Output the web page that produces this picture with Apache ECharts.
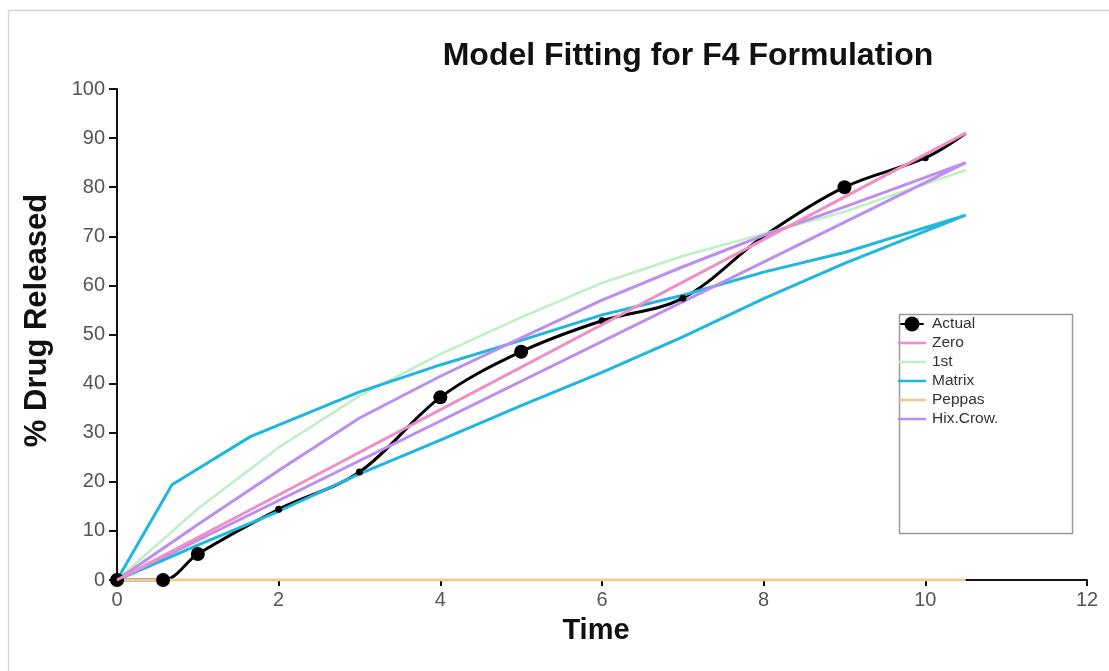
<!DOCTYPE html>
<html>
<head>
<meta charset="utf-8">
<script src="https://cdn.jsdelivr.net/npm/echarts@6/dist/echarts.min.js"></script>
<style>
  html, body { margin: 0; padding: 0; background: #fff; }
  #chart { width: 1109px; height: 671px; }
</style>
</head>
<body>
<div id="chart"></div>
<script>
// ---- data ----
const seriesNames = ['Actual', 'Zero', '1st', 'Matrix', 'Peppas', 'Hix.Crow.'];
const xTicks = [0, 2, 4, 6, 8, 10, 12];
const yTicks = [0, 10, 20, 30, 40, 50, 60, 70, 80, 90, 100];

const actualTime = [0, 0.57, 1, 2, 3, 4, 5, 6, 7, 8, 9, 10, 10.5];
const actualRel  = [0, 0, 5.3, 14.4, 22, 37.2, 46.5, 52.8, 57.4, 70, 80, 86, 91];

const zeroTime = [0, 10.5];
const zeroRel  = [0, 91];

const firstTime = [0, 1, 2, 3, 4, 5, 6, 7, 8, 9, 10.5];
const firstRel  = [0, 14.5, 27, 37.5, 46, 53.5, 60.5, 66, 70.5, 75, 83.5];

// Matrix: outward branch then return branch
const matrixTime = [0, 0.68, 1.65, 3, 4, 5, 6, 7, 8, 9, 10.5, 9, 8, 7, 6, 5, 4, 3, 2, 1, 0];
const matrixRel  = [0, 19.4, 29.2, 38.3, 43.8, 48.8, 54, 58, 62.7, 66.7, 74.3, 64.5, 57.3, 49.5, 42.3, 35.5, 28.5, 21.6, 14, 7.1, 0];

const peppasTime = [0, 10.5];
const peppasRel  = [0, 0];

// Hix.Crow.: upper branch then straight return
const hixTime = [0, 1, 2, 3, 4, 5, 6, 7, 8, 9, 10.5, 0];
const hixRel  = [0, 11.3, 22.3, 33, 41.5, 49.3, 57, 63.8, 70.2, 76, 85, 0];

const pairs = (xs, ys) => xs.map((x, i) => [x, ys[i]]);

// ---- styling ----
const markerSize = [14, 14, 14, 7, 7, 14, 14, 7, 7, 0, 14, 7, 0];
const colors = {
  'Actual': '#000000',
  'Zero': '#ef8fc4',
  '1st': '#bdf0c4',
  'Matrix': '#1fb7df',
  'Peppas': '#f6c88e',
  'Hix.Crow.': '#bb8ef0'
};
const FONT = '"Liberation Sans", Arial, sans-serif';
const LINE_ICON = 'path://M0,0 L28,0 L28,2.6 L0,2.6 Z';
const DOT_ICON = 'path://M0,8 L28,8 L28,10.5 L0,10.5 Z M23,9.25 A9,9 0 1,1 5,9.25 A9,9 0 1,1 23,9.25 Z';

const chart = echarts.init(document.getElementById('chart'));
chart.setOption({
  animation: false,
  backgroundColor: '#ffffff',
  title: {
    text: 'Model Fitting for F4 Formulation',
    left: 683, top: 35, textAlign: 'center',
    textStyle: { fontFamily: FONT, fontWeight: 'bold', fontSize: 32, color: '#111' }
  },
  graphic: [
    { type: 'rect', z: 0, silent: true,
      shape: { x: 8.5, y: 10.5, width: 1200, height: 700 },
      style: { fill: 'none', stroke: '#d6d6d6', lineWidth: 1.5 } },
    { type: 'rect', z: 3, silent: true,
      shape: { x: 899.5, y: 314.5, width: 173, height: 219 },
      style: { fill: '#fff', stroke: '#9a9a9a', lineWidth: 1.5 } }
  ],
  legend: {
    data: seriesNames.map(n => ({ name: n, icon: n === 'Actual' ? DOT_ICON : LINE_ICON })),
    orient: 'vertical',
    left: 898, top: 316,
    itemWidth: 28, itemHeight: 15, itemGap: 3,
    padding: 0,
    z: 5,
    textStyle: { fontFamily: FONT, fontSize: 15.5, color: '#333', lineHeight: 15, padding: [0, 0, 0, 1] }
  },
  grid: { left: 117, right: 22, top: 89, bottom: 91, containLabel: false },
  xAxis: {
    type: 'value', min: 0, max: 12, interval: 2,
    name: 'Time', nameLocation: 'middle', nameGap: 36,
    nameTextStyle: { fontFamily: FONT, fontWeight: 'bold', fontSize: 29, color: '#111', padding: [0, 12, 0, 0] },
    axisLine: { lineStyle: { color: '#111', width: 2 } },
    axisTick: { show: true, length: 6, lineStyle: { color: '#111', width: 2 } },
    axisLabel: { fontFamily: FONT, fontSize: 20, color: '#555', margin: 10,
      formatter: v => xTicks.includes(v) ? String(v) : '' },
    splitLine: { show: false }
  },
  yAxis: {
    type: 'value', min: 0, max: 100, interval: 10,
    name: '% Drug Released', nameLocation: 'middle', nameGap: 64, nameRotate: 90,
    nameTextStyle: { fontFamily: FONT, fontWeight: 'bold', fontSize: 31, color: '#111', padding: [0, 0, 0, 28] },
    axisLine: { show: true, lineStyle: { color: '#111', width: 2 } },
    axisTick: { show: true, length: 8, lineStyle: { color: '#111', width: 2 } },
    axisLabel: { fontFamily: FONT, fontSize: 20, color: '#555', margin: 12,
      formatter: v => yTicks.includes(v) ? String(v) : '' },
    splitLine: { show: false }
  },
  series: [
    { name: 'Actual', type: 'line', data: pairs(actualTime, actualRel),
      smooth: 0.35, symbol: 'circle',
      symbolSize: (val, params) => params && params.dataIndex != null ? markerSize[params.dataIndex] : 14,
      showAllSymbol: true,
      itemStyle: { color: colors['Actual'] },
      lineStyle: { color: colors['Actual'], width: 3 }, z: 2 },
    { name: 'Zero', type: 'line', data: pairs(zeroTime, zeroRel), symbol: 'none',
      itemStyle: { color: colors['Zero'] },
      lineStyle: { color: colors['Zero'], width: 3 }, z: 3 },
    { name: '1st', type: 'line', data: pairs(firstTime, firstRel), symbol: 'none',
      itemStyle: { color: colors['1st'] },
      lineStyle: { color: colors['1st'], width: 2.5 }, z: 2 },
    { name: 'Matrix', type: 'line', data: pairs(matrixTime, matrixRel), symbol: 'none',
      itemStyle: { color: colors['Matrix'] },
      lineStyle: { color: colors['Matrix'], width: 3 }, z: 2 },
    { name: 'Peppas', type: 'line', data: pairs(peppasTime, peppasRel), symbol: 'none',
      itemStyle: { color: colors['Peppas'] },
      lineStyle: { color: colors['Peppas'], width: 3 }, z: 2 },
    { name: 'Hix.Crow.', type: 'line', data: pairs(hixTime, hixRel), symbol: 'none',
      itemStyle: { color: colors['Hix.Crow.'] },
      lineStyle: { color: colors['Hix.Crow.'], width: 3 }, z: 2 }
  ]
});
</script>
</body>
</html>
